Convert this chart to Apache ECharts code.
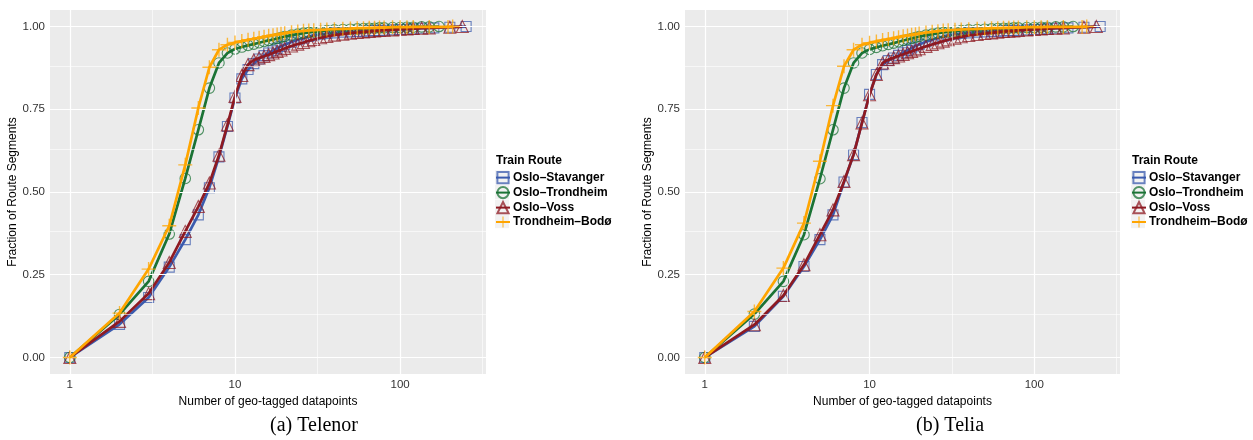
<!DOCTYPE html>
<html><head><meta charset="utf-8">
<script src="https://cdn.jsdelivr.net/npm/echarts@6/dist/echarts.min.js"></script>
<style>html,body{margin:0;padding:0;background:#fff}#chart{width:1253px;height:440px}</style>
</head><body><div id="chart"></div>
<script>
// ---------- data ----------
const routes = ['Oslo–Stavanger', 'Oslo–Trondheim', 'Oslo–Voss', 'Trondheim–Bodø'];
const panelCaptions = ['(a) Telenor', '(b) Telia'];
const xTickValues = [1, 10, 100];
const xMinorValues = [3.1623, 31.623, 316.23];
const yTickValues = [0, 0.25, 0.5, 0.75, 1];
const yMinorValues = [0.125, 0.375, 0.625, 0.875];

const xMain = [1,2,3,4,5,6,7,8,9,10,11,12,13,14,15,16,17,18,19,20,22,24,26,28,30,33,36,40,45,50,55,60,65,70,75,80,90,100,110,120];
const xTailStavanger = [135, 160, 200, 251];
const xTailTrondheim = [135, 150, 172];
const xTailVoss = [135, 150, 200, 238];
const xTailBodo = [150, 195, 208];

const telenorStavanger = [0,0.100,0.181,0.273,0.356,0.431,0.513,0.606,0.698,0.784,0.842,0.870,0.888,0.902,0.912,0.920,0.927,0.934,0.940,0.945,0.953,0.960,0.965,0.970,0.974,0.977,0.979,0.981,0.983,0.984,0.985,0.986,0.987,0.988,0.988,0.989,0.990,0.991,0.992,0.993, 0.995,0.996,0.998,1.0];
const telenorTrondheim = [0,0.130,0.230,0.373,0.541,0.688,0.814,0.890,0.920,0.932,0.938,0.943,0.947,0.951,0.955,0.958,0.961,0.964,0.967,0.970,0.974,0.977,0.980,0.982,0.984,0.986,0.988,0.990,0.991,0.992,0.993,0.994,0.995,0.995,0.996,0.996,0.997,0.997,0.998,0.998, 0.999,0.999,1.0];
const telenorVoss = [0,0.109,0.193,0.287,0.381,0.456,0.527,0.611,0.703,0.789,0.852,0.885,0.899,0.905,0.910,0.915,0.920,0.925,0.929,0.934,0.941,0.947,0.952,0.957,0.961,0.966,0.970,0.974,0.977,0.980,0.982,0.984,0.985,0.987,0.988,0.989,0.990,0.992,0.993,0.994, 0.995,0.996,0.998,1.0];
const telenorBodo = [0,0.134,0.267,0.398,0.582,0.754,0.877,0.930,0.945,0.952,0.956,0.960,0.963,0.966,0.969,0.972,0.974,0.976,0.978,0.980,0.983,0.985,0.987,0.988,0.989,0.990,0.991,0.992,0.993,0.994,0.995,0.995,0.996,0.996,0.997,0.997,0.998,0.998,0.998,0.999, 0.999,0.999,1.0];

const teliaStavanger = [0,0.094,0.185,0.275,0.356,0.431,0.530,0.613,0.710,0.795,0.855,0.885,0.897,0.905,0.913,0.921,0.928,0.935,0.941,0.946,0.954,0.960,0.966,0.970,0.974,0.977,0.979,0.981,0.983,0.984,0.985,0.986,0.987,0.988,0.988,0.989,0.990,0.991,0.992,0.993, 0.995,0.996,0.998,1.0];
const teliaTrondheim = [0,0.131,0.230,0.371,0.540,0.688,0.814,0.890,0.920,0.931,0.937,0.942,0.946,0.950,0.954,0.958,0.961,0.964,0.967,0.970,0.974,0.977,0.980,0.982,0.984,0.986,0.988,0.990,0.991,0.992,0.993,0.994,0.995,0.995,0.996,0.996,0.997,0.997,0.998,0.998, 0.999,0.999,1.0];
const teliaVoss = [0,0.099,0.187,0.280,0.371,0.446,0.532,0.613,0.709,0.794,0.855,0.890,0.900,0.906,0.911,0.916,0.921,0.925,0.929,0.933,0.940,0.946,0.951,0.956,0.960,0.965,0.969,0.973,0.976,0.979,0.981,0.983,0.985,0.986,0.987,0.988,0.990,0.991,0.993,0.994, 0.995,0.996,0.998,1.0];
const teliaBodo = [0,0.139,0.270,0.406,0.593,0.761,0.880,0.930,0.945,0.951,0.955,0.959,0.962,0.965,0.968,0.971,0.973,0.975,0.977,0.979,0.982,0.984,0.986,0.988,0.989,0.990,0.991,0.992,0.993,0.994,0.995,0.995,0.996,0.996,0.997,0.997,0.998,0.998,0.998,0.999, 0.999,0.999,1.0];

// ---------- styling ----------
const FONT = '"Liberation Sans", Arial, sans-serif';
const colors = ['#3B5BAE', '#1B7335', '#8E1A22', '#FFA500'];
const PLUS = 'path://M9,0H11V9H20V11H11V20H9V11H0V9H9Z';
const symbolDefs = [
  { symbol: 'rect', size: 10 },
  { symbol: 'circle', size: 10.5 },
  { symbol: 'triangle', size: 12 },
  { symbol: PLUS, size: 14 }
];
const xs = [
  xMain.concat(xTailStavanger),
  xMain.concat(xTailTrondheim),
  xMain.concat(xTailVoss),
  xMain.concat(xTailBodo)
];
const panels = [
  [telenorStavanger, telenorTrondheim, telenorVoss, telenorBodo],
  [teliaStavanger, teliaTrondheim, teliaVoss, teliaBodo]
];
const grids = [
  { left: 50, top: 10, width: 436, height: 364 },
  { left: 685, top: 10, width: 435, height: 364 }
];
const legendLeft = [495, 1131];
const captionCenter = [314, 950];

const lg = v => Math.log10(v);
const xAxes = [], yAxes = [], series = [], titles = [], legends = [], graphics = [];

grids.forEach((g, p) => {
  xAxes.push({
    type: 'value', gridIndex: p, min: -0.12, max: 2.52,
    name: 'Number of geo-tagged datapoints', nameLocation: 'middle', nameGap: 15,
    nameTextStyle: { fontFamily: FONT, fontSize: 12, color: '#000' },
    axisLine: { show: false },
    splitLine: { show: false },
    axisTick: { show: true, length: 3, lineStyle: { color: '#333' }, customValues: xTickValues.map(lg) },
    axisLabel: { customValues: xTickValues.map(lg), margin: 5, fontFamily: FONT, fontSize: 11.5, color: '#333',
      formatter: v => String(Math.round(Math.pow(10, v))) }
  });
  yAxes.push({
    type: 'value', gridIndex: p, min: -0.05, max: 1.05,
    name: 'Fraction of Route Segments', nameLocation: 'middle', nameGap: 29,
    nameTextStyle: { fontFamily: FONT, fontSize: 12, color: '#000' },
    axisLine: { show: false },
    splitLine: { show: false },
    axisTick: { show: true, length: 3, lineStyle: { color: '#333' }, customValues: yTickValues },
    axisLabel: { customValues: yTickValues, margin: 5, fontFamily: FONT, fontSize: 11.5, color: '#333',
      formatter: v => v.toFixed(2) }
  });
  // grid lines (ggplot style) via markLine on a helper series
  const ml = [];
  xTickValues.forEach(v => ml.push({ xAxis: lg(v), lineStyle: { width: 1.2 } }));
  xMinorValues.forEach(v => ml.push({ xAxis: lg(v), lineStyle: { width: 0.6 } }));
  yTickValues.forEach(v => ml.push({ yAxis: v, lineStyle: { width: 1.2 } }));
  yMinorValues.forEach(v => ml.push({ yAxis: v, lineStyle: { width: 0.6 } }));
  series.push({
    type: 'line', name: '__grid' + p, xAxisIndex: p, yAxisIndex: p, data: [], z: 1, silent: true,
    markLine: { silent: true, symbol: 'none', label: { show: false }, animation: false,
      lineStyle: { color: '#FFFFFF', type: 'solid' }, emphasis: { disabled: true }, data: ml }
  });
  panels[p].forEach((ys, i) => {
    const isPlus = i === 3;
    series.push({
      type: 'line', name: routes[i], xAxisIndex: p, yAxisIndex: p, z: 2 + i,
      data: ys.map((y, k) => [lg(xs[i][k]), y]),
      symbol: symbolDefs[i].symbol, symbolSize: symbolDefs[i].size, showSymbol: true, showAllSymbol: true,
      lineStyle: { color: colors[i], width: 2.7 },
      itemStyle: isPlus
        ? { color: colors[i], opacity: 0.75 }
        : { color: 'rgba(0,0,0,0)', borderColor: colors[i], borderWidth: 1.1, opacity: 0.75 },
      emphasis: { disabled: true }
    });
  });
  titles.push({ text: 'Train Route', left: legendLeft[p] + 1, top: 155, padding: 0,
    textStyle: { fontFamily: FONT, fontSize: 12, fontWeight: 'bold', color: '#000' } });
  titles.push({ text: panelCaptions[p], left: captionCenter[p], top: 416, padding: 0, textAlign: 'center',
    textStyle: { fontFamily: '"Liberation Serif", "Times New Roman", serif', fontSize: 20, fontWeight: 'normal', color: '#000' } });
  legends.push({
    data: routes, orient: 'vertical', left: legendLeft[p], top: 171, padding: 0, itemGap: 1.8,
    itemWidth: 14, itemHeight: 14, selectedMode: false,
    textStyle: { fontFamily: FONT, fontSize: 12, fontWeight: 'bold', color: '#000', padding: [0, 0, 0, -2] }
  });
  routes.forEach((r, i) => graphics.push({ type: 'rect', left: legendLeft[p], top: 170.4 + i * 14.6, z: -1,
    shape: { width: 14, height: 14 }, style: { fill: '#F2F2F2' } }));
});

const chart = echarts.init(document.getElementById('chart'), null, { renderer: 'canvas' });
chart.setOption({
  animation: false,
  backgroundColor: '#FFFFFF',
  title: titles,
  legend: legends,
  graphic: graphics,
  grid: grids.map(g => Object.assign({ show: true, backgroundColor: '#EBEBEB', borderWidth: 0 }, g)),
  xAxis: xAxes,
  yAxis: yAxes,
  series: series
});
</script>
</body></html>
